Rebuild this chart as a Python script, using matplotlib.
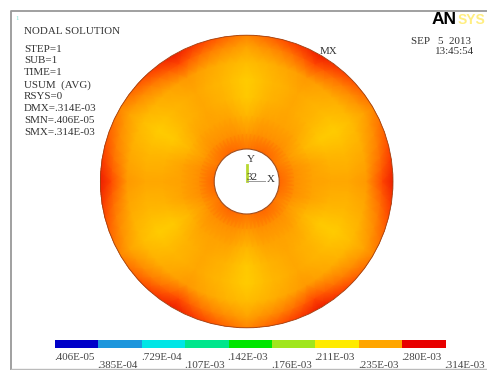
import numpy as np
import matplotlib
matplotlib.use("Agg")
import matplotlib.pyplot as plt
from matplotlib.colors import LinearSegmentedColormap
from matplotlib.patches import Circle, Rectangle

# displacement, in units of 1e-3
# rows = radius in pixels, columns = angle from +x every 15 deg, counter clockwise
radii = [30, 48, 66, 84, 102, 120, 136, 150]
angles = list(range(0, 360, 15))
usum = [
    [.275, .272, .268, .272, .275, .272, .268, .272, .275, .272, .268, .272, .275, .272, .268, .272, .275, .272, .268, .272, .275, .272, .268, .272],
    [.254, .254, .250, .254, .254, .254, .250, .254, .254, .254, .250, .254, .254, .254, .250, .254, .254, .254, .250, .254, .254, .254, .250, .254],
    [.246, .245, .236, .245, .246, .245, .236, .245, .246, .245, .236, .245, .246, .245, .236, .245, .246, .245, .236, .245, .246, .245, .236, .245],
    [.244, .238, .224, .238, .244, .238, .224, .238, .244, .238, .224, .238, .244, .238, .224, .238, .244, .238, .224, .238, .244, .238, .224, .238],
    [.244, .236, .222, .236, .244, .236, .222, .236, .244, .236, .222, .236, .244, .236, .222, .236, .244, .236, .222, .236, .244, .236, .222, .236],
    [.250, .242, .232, .242, .250, .242, .232, .242, .250, .242, .232, .242, .250, .242, .232, .242, .250, .242, .232, .242, .250, .242, .232, .242],
    [.282, .262, .246, .262, .282, .262, .246, .262, .282, .262, .246, .262, .282, .262, .246, .262, .282, .262, .246, .262, .282, .262, .246, .262],
    [.310, .285, .262, .285, .310, .285, .262, .285, .310, .285, .262, .285, .310, .285, .262, .285, .310, .285, .262, .285, .310, .285, .262, .285],
]

band_colors = ["#0000c8", "#1e96dc", "#00e6e6", "#00e68c", "#00e600",
               "#a0e61e", "#ffeb00", "#ffa500", "#e80000"]
level_labels = [".406E-05", ".385E-04", ".729E-04", ".107E-03", ".142E-03",
                ".176E-03", ".211E-03", ".235E-03", ".280E-03", ".314E-03"]
info_lines = ["STEP=1", "SUB=1", "TIME=1", "USUM  (AVG)", "RSYS=0",
              "DMX=.314E-03", "SMN=.406E-05", "SMX=.314E-03"]

cx, cy = 246.7, 181.5
r_out, r_in = 146.3, 32.5

fig = plt.figure(figsize=(4.87, 3.70), dpi=100)
ax = fig.add_axes([0, 0, 1, 1])
ax.set_xlim(0, 487)
ax.set_ylim(370, 0)
ax.axis("off")

txt = dict(color="#333333", fontsize=7.9, family="Liberation Serif")

# window frame
ax.plot([11, 11, 487], [370, 10.5, 10.5], color="#999999", lw=1.3)
ax.plot([11, 487], [369, 369], color="#bbbbbb", lw=1)

# annulus field, closed round in angle
th = np.deg2rad(angles + [360])
vals = np.array(usum)
vals = np.column_stack([vals, vals[:, 0]])
# finer angular steps so the mesh stays round, values still come from the table
th_f = np.deg2rad(np.arange(0, 360.1, 5))
vals_f = np.array([np.interp(th_f, th, row) for row in vals])
rr, tt = np.meshgrid(radii, th_f, indexing="ij")
xx = cx + rr * np.cos(tt)
yy = cy - rr * np.sin(tt)
field_cmap = LinearSegmentedColormap.from_list(
    "field", [(0, "#ffcc00"), (0.2, "#ffb000"), (0.36, "#ff9000"), (0.5, "#ff7400"),
              (0.77, "#ff3000"), (1, "#e81000")])
mesh = ax.pcolormesh(xx, yy, vals_f, cmap=field_cmap, vmin=.222, vmax=.310, shading="gouraud")
mesh.set_clip_path(Circle((cx, cy), r_out, transform=ax.transData))
ax.add_patch(Circle((cx, cy), r_out, fc="none", ec="#a04010", lw=0.6))
ax.add_patch(Circle((cx, cy), r_in, fc="white", ec="#a05020", lw=0.8))

# triad
ax.plot([247, 247], [165, 181], color="#b8d830", lw=2)
ax.plot([247, 265], [181, 181], color="#999999", lw=0.7)
ax.text(251, 160, "Y", ha="center", va="center", **txt)
ax.text(252, 177, "32", ha="center", va="center", color="#333333", fontsize=8, family="Liberation Serif")
ax.text(271, 180, "X", ha="center", va="center", **txt)

# header texts
ax.text(15, 19, "1", color="#80e0d0", fontsize=5, va="center", family="Liberation Serif")
ax.text(24, 31, "NODAL SOLUTION", va="center", **txt)
for i, line in enumerate(info_lines):
    ax.text(24, 49 + i * 11.9, line, va="center", **txt)
ax.text(329, 51, "MX", ha="center", va="center", **txt)
ax.text(411, 41, "SEP   5  2013", va="center", **txt)
ax.text(474, 52, "13:45:54", ha="right", va="center", **txt)
ax.text(432, 20, "AN", fontsize=12.5, fontweight="bold", color="black", va="center",
        family="Liberation Sans")
ax.text(458, 20, "SYS", fontsize=10, fontweight="bold", color="#ffee80", va="center",
        family="Liberation Sans")

# contour legend
x0, bw = 55, 43.4
for i, c in enumerate(band_colors):
    ax.add_patch(Rectangle((x0 + i * bw, 340), bw, 7.5, fc=c, ec="none"))
for i, lab in enumerate(level_labels):
    y = 357 if i % 2 == 0 else 365.5
    ax.text(x0 - 1 + i * bw, y, lab, ha="left", va="center", color="#444444",
            fontsize=7.9, family="Liberation Serif")

fig.savefig("out.png", dpi=100)
